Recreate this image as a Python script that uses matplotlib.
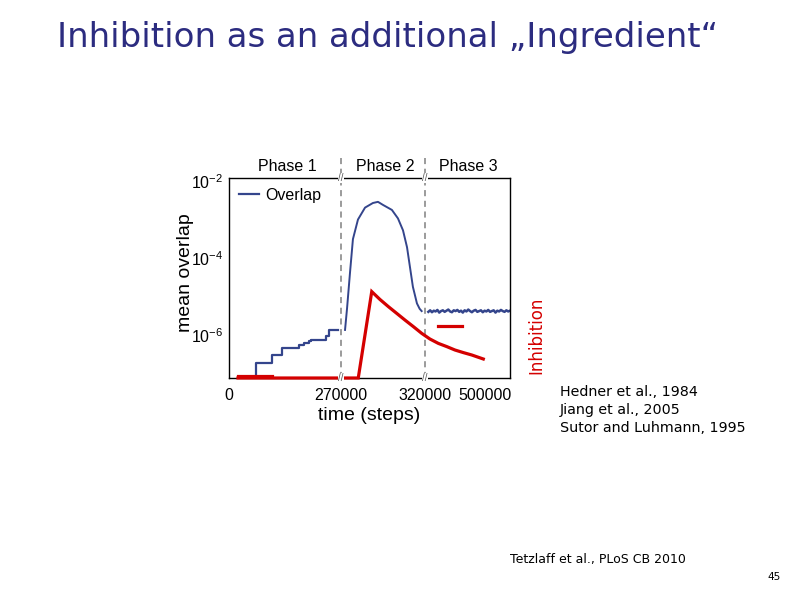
import matplotlib.pyplot as plt
import numpy as np

# ---- data (log10 of mean overlap) ----
p1_t = [65800, 65800, 104400, 128500, 168800, 180800, 192900, 197000, 233100, 241100, 263500]
p1_v = [-7.3, -6.72, -6.53, -6.33, -6.26, -6.22, -6.16, -6.12, -6.03, -5.86, -5.86]

p2_t = [272400, 273600, 275400, 277100, 280100, 284300, 289000, 292000, 295000,
        300300, 303900, 306900, 309300, 311100, 312800, 315200, 316800, 318000]
p2_v = [-5.87, -5.31, -4.36, -3.51, -3.0, -2.69, -2.57, -2.54, -2.62,
        -2.75, -2.97, -3.28, -3.72, -4.25, -4.75, -5.18, -5.32, -5.38]

p3_v = [-5.40, -5.36, -5.41, -5.37, -5.39, -5.35, -5.42, -5.38, -5.36, -5.40,
        -5.37, -5.34, -5.39, -5.41, -5.36, -5.38, -5.35, -5.40, -5.37, -5.42,
        -5.36, -5.39, -5.34, -5.38, -5.41, -5.37, -5.35, -5.40, -5.38, -5.36,
        -5.41, -5.37, -5.39, -5.35, -5.40, -5.38, -5.36, -5.42, -5.37, -5.39,
        -5.35, -5.38, -5.40, -5.36, -5.39, -5.37]
p3_t = np.linspace(330000, 575000, len(p3_v))

# inhibition sketch (relative units over the whole plot box)
inh_x = [0.032, 0.460, 0.508, 0.537, 0.567, 0.597, 0.626, 0.656, 0.686, 0.715,
         0.745, 0.775, 0.804, 0.834, 0.864, 0.905]
inh_y = [0.0, 0.0, 0.432, 0.393, 0.357, 0.323, 0.29, 0.257, 0.223, 0.195,
         0.173, 0.157, 0.14, 0.127, 0.115, 0.095]
inh_short_x = [0.032, 0.153]
inh_short_y = [0.012, 0.012]
inh_dash_x = [0.745, 0.828]
inh_dash_y = [0.26, 0.26]

phase_names = ['Phase 1', 'Phase 2', 'Phase 3']
phase_lims = [(0, 270000), (270000, 320000), (320000, 575000)]
phase_ticks = [[0, 270000], [320000], [500000]]
refs = ['Hedner et al., 1984', 'Jiang et al., 2005', 'Sutor and Luhmann, 1995']

BLUE = '#34458c'
RED = '#d40000'

W, H = 794, 595
fig = plt.figure(figsize=(W/100, H/100), dpi=100)


def px_box(x0, x1, y0, y1):
	# pixel box (top-left origin) -> figure fraction rect
	return [x0/W, 1-y1/H, (x1-x0)/W, (y1-y0)/H]


edges = [229, 341, 425, 510]
ytop, ybot = 178, 378
ylo, yhi = 10**-7.12, 10**-1.92

axes = []
for i in range(3):
	ax = fig.add_axes(px_box(edges[i], edges[i+1], ytop, ybot))
	ax.set_yscale('log')
	ax.set_ylim(ylo, yhi)
	ax.set_xlim(*phase_lims[i])
	ax.set_xticks(phase_ticks[i])
	ax.set_xticklabels([str(t) for t in phase_ticks[i]], fontsize=11.5, family='Liberation Sans')
	ax.tick_params(length=0, pad=7)
	ax.spines['left'].set_visible(i == 0)
	ax.spines['right'].set_visible(i == 2)
	for s in ax.spines.values():
		s.set_linewidth(1.0)
	if i == 0:
		ax.set_yticks([1e-6, 1e-4, 1e-2])
		ax.set_yticklabels([r'$\mathregular{10^{-6}}$', r'$\mathregular{10^{-4}}$', r'$\mathregular{10^{-2}}$'],
						   fontsize=11.5, family='Liberation Sans')
		ax.minorticks_off()
		ax.tick_params(axis='y', pad=4)
	else:
		ax.set_yticks([])
		ax.minorticks_off()
	axes.append(ax)

ln, = axes[0].plot(p1_t, 10**np.array(p1_v), color=BLUE, lw=1.6, drawstyle='steps-post')
axes[1].plot(p2_t, 10**np.array(p2_v), color=BLUE, lw=1.4)
axes[2].plot(p3_t, 10**np.array(p3_v), color=BLUE, lw=1.8)

leg = axes[0].legend([ln], ['Overlap'], loc='upper left', frameon=False,
					 handlelength=1.3, handletextpad=0.4, borderaxespad=0.2,
					 prop={'family': 'Liberation Sans', 'size': 11.5})

# overlay for phase separators and inhibition sketch
ov = fig.add_axes(px_box(229, 510, ytop, ybot), facecolor='none')
ov.set_xlim(0, 1)
ov.set_ylim(0, 1)
ov.axis('off')
for xb in [(341-229)/281, (425-229)/281]:
	ov.plot([xb, xb], [0, 1.105], color='#808080', lw=1.1, ls=(0, (4, 3)), clip_on=False)
	for yb in [1.0, 0.0]:
		ov.text(xb, yb, '//', fontsize=7, ha='center', va='center', color='#555555',
				family='Liberation Sans', clip_on=False,
				bbox=dict(boxstyle='square,pad=0.05', fc='white', ec='none'))
for name, xc in zip(phase_names, [287, 385, 468]):
	ov.text((xc-229)/281, (378-167)/200, name, fontsize=11.5, ha='center', va='center',
			family='Liberation Sans', clip_on=False)

ov.plot(inh_x, inh_y, color=RED, lw=2.3, clip_on=False, solid_joinstyle='miter')
ov.plot(inh_short_x, inh_short_y, color=RED, lw=2.3, clip_on=False)
ov.plot(inh_dash_x, inh_dash_y, color=RED, lw=2.3, clip_on=False)

fig.text(369/W, 1-415/H, 'time (steps)', fontsize=14, ha='center', va='center', family='Liberation Sans')
fig.text(185/W, 1-273/H, 'mean overlap', fontsize=14, ha='center', va='center', rotation=90,
		 family='Liberation Sans')
fig.text(536/W, 1-335/H, 'Inhibition', fontsize=12, ha='center', va='center', rotation=90, color=RED)

fig.text(57/W, 1-37/H, 'Inhibition as an additional \u201eIngredient\u201c', fontsize=24.5,
		 ha='left', va='center', color='#2c2c80')

for k, r in enumerate(refs):
	fig.text(560/W, 1-(392+18*k)/H, r, fontsize=10.3, ha='left', va='center')

fig.text(510/W, 1-560/H, 'Tetzlaff et al., PLoS CB 2010', fontsize=9, ha='left', va='center')
fig.text(774/W, 1-577/H, '45', fontsize=7.5, ha='center', va='center')

fig.savefig('out.png', dpi=100)
